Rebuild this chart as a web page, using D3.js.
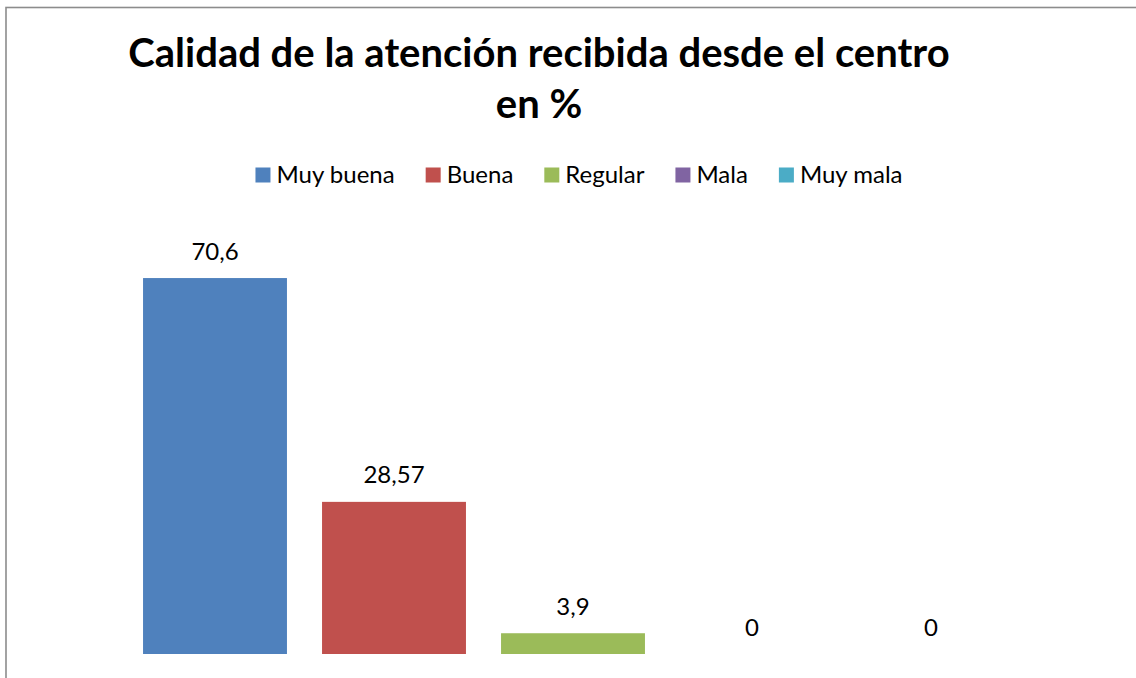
<!DOCTYPE html>
<html lang="es">
<head>
  <meta charset="utf-8">
  <title>Calidad de la atención recibida desde el centro</title>
  <script src="https://d3js.org/d3.v7.min.js"></script>
  <style>
    body { margin: 0; background: #fff; }
    text { font-family: Lato, "Open Sans", sans-serif; fill: #000; }
  </style>
</head>
<body>
  <script>
    // datos del grafico
    var categorias = ["Muy buena", "Buena", "Regular", "Mala", "Muy mala"];
    var valores = [70.6, 28.57, 3.9, 0, 0];
    var yDominio = [0, 80];
    var tituloLineas = ["Calidad de la atención recibida desde el centro", "en %"];

    var colores = ["#4F81BD", "#C0504D", "#9BBB59", "#8064A2", "#4BACC6"];

    var width = 1136;
    var height = 678;

    var svg = d3.select("body").append("svg")
        .attr("width", width)
        .attr("height", height);

    // marco del grafico (se sale por la derecha y abajo)
    svg.append("rect")
        .attr("x", 6)
        .attr("y", 7.5)
        .attr("width", 1200)
        .attr("height", 800)
        .attr("fill", "none")
        .attr("stroke", "#8c8c8c")
        .attr("stroke-width", 1.6);

    var x = d3.scaleBand()
        .domain(categorias)
        .range([125.5, 1020.5])
        .paddingInner(0.196)
        .paddingOuter(0.098);

    var y = d3.scaleLinear()
        .domain(yDominio)
        .range([654, 228]);

    var color = d3.scaleOrdinal()
        .domain(categorias)
        .range(colores);

    // titulo
    svg.append("g").selectAll("text")
        .data(tituloLineas)
        .enter().append("text")
        .attr("x", 539)
        .attr("y", function(d, i) { return 67 + i * 50.5; })
        .attr("text-anchor", "middle")
        .style("font-size", "40px")
        .style("font-weight", "bold")
        .text(function(d) { return d; });

    // barras
    svg.append("g").selectAll("rect")
        .data(valores)
        .enter().append("rect")
        .attr("x", function(d, i) { return x(categorias[i]); })
        .attr("y", function(d) { return y(d); })
        .attr("width", x.bandwidth())
        .attr("height", function(d) { return y(0) - y(d); })
        .attr("fill", function(d, i) { return color(categorias[i]); });

    // etiquetas de valor
    svg.append("g").selectAll("text")
        .data(valores)
        .enter().append("text")
        .attr("x", function(d, i) { return x(categorias[i]) + x.bandwidth() / 2; })
        .attr("y", function(d) { return y(d) - 18.5; })
        .attr("text-anchor", "middle")
        .style("font-size", "24px")
        .text(function(d) { return String(d).replace(".", ","); });

    // leyenda
    var leyenda = svg.append("g");
    var items = leyenda.selectAll("g")
        .data(categorias)
        .enter().append("g");

    items.append("rect")
        .attr("width", 15)
        .attr("height", 15)
        .attr("y", 167.5)
        .attr("fill", function(d) { return color(d); });

    items.append("text")
        .attr("x", 21)
        .attr("y", 182.5)
        .style("font-size", "24px")
        .text(function(d) { return d; });

    var pos = 0;
    var anchos = [];
    items.each(function() {
      anchos.push(21 + d3.select(this).select("text").node().getComputedTextLength());
    });
    var gap = 31;
    var total = d3.sum(anchos) + gap * (anchos.length - 1);
    var inicio = 579 - total / 2;
    items.attr("transform", function(d, i) {
      var t = "translate(" + (inicio + pos) + ",0)";
      pos += anchos[i] + gap;
      return t;
    });
  </script>
</body>
</html>
